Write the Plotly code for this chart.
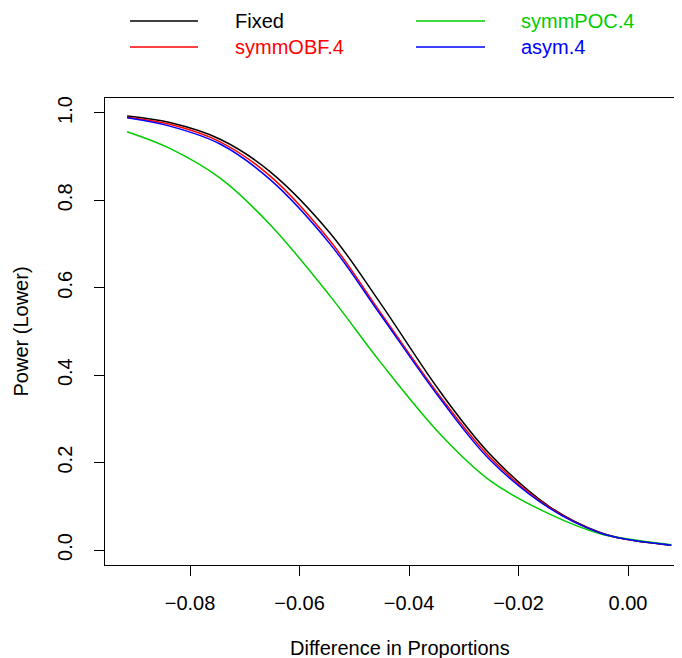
import plotly.graph_objects as go

# ---- data ----
diff = [-0.0915, -0.0837, -0.0745, -0.0654, -0.0544, -0.0453, -0.0343,
        -0.0252, -0.0143, -0.0051, 0.0, 0.0079]
fixed = [0.993, 0.978, 0.940, 0.866, 0.725, 0.566, 0.362, 0.219, 0.099, 0.040, 0.024, 0.011]
symm_obf = [0.990, 0.974, 0.934, 0.856, 0.707, 0.545, 0.351, 0.212, 0.097, 0.039, 0.024, 0.011]
symm_poc = [0.957, 0.919, 0.851, 0.745, 0.581, 0.431, 0.265, 0.159, 0.082, 0.037, 0.025, 0.012]
asym = [0.989, 0.970, 0.929, 0.848, 0.700, 0.540, 0.346, 0.206, 0.095, 0.039, 0.024, 0.011]

series_names = ["Fixed", "symmOBF.4", "symmPOC.4", "asym.4"]
series_values = [fixed, symm_obf, symm_poc, asym]
series_colors = ["#000000", "#FF0000", "#00CD00", "#0000FF"]

x_ticks = [-0.08, -0.06, -0.04, -0.02, 0.00]
y_ticks = [0.0, 0.2, 0.4, 0.6, 0.8, 1.0]

FONT = "Liberation Sans, Arial, Helvetica, sans-serif"
FS = 20

# the page body adds an 8px margin; work in screen pixels and shift
OFF = 8
W, H = 682 - OFF, 658 - OFF
L, T, B = 105 - OFF, 98 - OFF, 93
R = 0
PW = W - L - R
PH = H - T - B


def px_x(p):
    return (p - OFF - L) / PW


def px_y(p):
    return (H - B - (p - OFF)) / PH


fig = go.Figure()
for name, vals, col in zip(series_names, series_values, series_colors):
    fig.add_trace(go.Scatter(x=diff, y=vals, mode="lines", name=name,
                             line=dict(color=col, width=1.5, shape="spline", smoothing=1.0),
                             showlegend=False))

# manual legend (two columns, R style)
legend_pos = [(130, 198, 233, 21), (130, 198, 233, 47), (416, 485, 519, 21), (416, 485, 519, 47)]
for (x0, x1, xt, yy), name, col in zip(legend_pos, series_names, series_colors):
    fig.add_shape(type="line", xref="paper", yref="paper",
                  x0=px_x(x0), x1=px_x(x1), y0=px_y(yy), y1=px_y(yy),
                  line=dict(color=col, width=1.5))
    fig.add_annotation(xref="paper", yref="paper", x=px_x(xt), y=px_y(yy),
                       text=name, showarrow=False, xanchor="left", yanchor="middle",
                       font=dict(family=FONT, size=FS, color=col))

# axis titles
fig.add_annotation(xref="paper", yref="paper", x=px_x(400), y=px_y(648),
                   text="Difference in Proportions", showarrow=False,
                   xanchor="center", yanchor="middle",
                   font=dict(family=FONT, size=FS, color="black"))
fig.add_annotation(xref="paper", yref="paper", x=px_x(20), y=0.5,
                   text="Power (Lower)", showarrow=False, textangle=-90,
                   xanchor="center", yanchor="middle",
                   font=dict(family=FONT, size=FS, color="black"))

fig.update_layout(
    width=W, height=H,
    margin=dict(l=L, r=R, t=T, b=B, pad=0),
    paper_bgcolor="white", plot_bgcolor="white",
    font=dict(family=FONT, size=FS, color="black"),
    showlegend=False,
)
fig.update_xaxes(range=[-0.09553, 0.00986], tickvals=x_ticks, tickformat=".2f",
                 showgrid=False, zeroline=False, showline=True, mirror=True,
                 linecolor="black", linewidth=1, ticks="outside", ticklen=10,
                 tickwidth=1, tickcolor="black", ticklabelstandoff=10)
fig.update_yaxes(range=[-0.0343, 1.0343], tickvals=y_ticks, tickformat=".1f",
                 showgrid=False, zeroline=False, showline=True, mirror=False,
                 linecolor="black", linewidth=1, ticks="outside", ticklen=10,
                 tickwidth=1, tickcolor="black", tickangle=-90, ticklabelstandoff=14)

fig.write_html("out.html")
